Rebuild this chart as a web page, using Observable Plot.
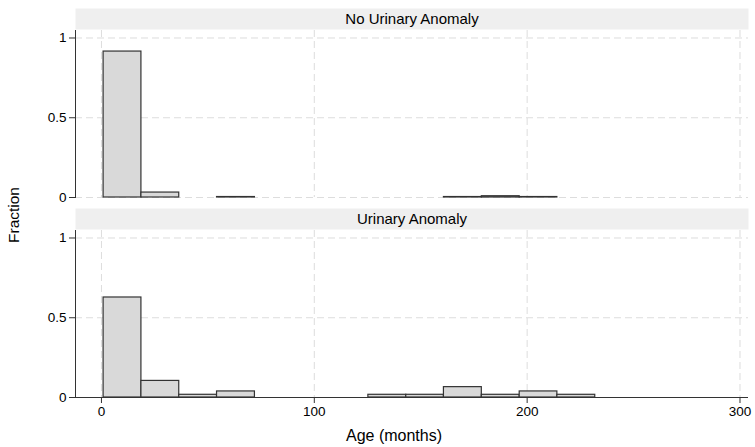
<!DOCTYPE html>
<html><head><meta charset="utf-8">
<script src="https://cdn.jsdelivr.net/npm/d3@7"></script>
<script src="https://cdn.jsdelivr.net/npm/@observablehq/plot@0.6"></script>
<style>
body{margin:0;background:#fff;}
#wrap{position:relative;width:755px;height:447px;font-family:"Liberation Sans",Arial,sans-serif;color:#000;}
#wrap svg{position:absolute;left:0;top:0;}
.lab{position:absolute;white-space:nowrap;line-height:1;}
#ylab{left:14px;top:215px;font-size:15.5px;transform:translate(-50%,-50%) rotate(-90deg);}
#xlab{left:394px;top:436px;font-size:16px;transform:translate(-50%,-50%);}
</style></head><body>
<div id="wrap"><div class="lab" id="ylab">Fraction</div><div class="lab" id="xlab">Age (months)</div></div>
<script>
const panels = ["No Urinary Anomaly", "Urinary Anomaly"];
const binEdges = [1, 18.77, 36.54, 54.3, 72.1, 89.8, 107.6, 125.4, 143.2, 160.9, 178.7, 196.5, 214.2, 232];
const fractionNoAnomaly = [0.915, 0.031, 0, 0.003, 0, 0, 0, 0, 0, 0.003, 0.008, 0.003, 0];
const fractionAnomaly = [0.627, 0.104, 0.017, 0.038, 0, 0, 0, 0.017, 0.017, 0.065, 0.017, 0.038, 0.017];
const xTicks = [0, 100, 200, 300];
const yTicks = [0, 0.5, 1];

const bars = panels.flatMap((p, i) => (i ? fractionAnomaly : fractionNoAnomaly)
  .map((v, j) => ({panel: p, x1: binEdges[j], x2: binEdges[j + 1], value: v})))
  .filter(d => d.value > 0);

const gridStyle = {stroke: "#dddddd", strokeOpacity: 1, strokeWidth: 1, strokeDasharray: "7,4"};

const chart = Plot.plot({
  width: 755,
  height: 447,
  marginLeft: 75,
  marginRight: 7,
  marginTop: 30,
  marginBottom: 50,
  style: {fontFamily: "Liberation Sans, Arial, sans-serif", fontSize: "13.5px", background: "#fff"},
  x: {domain: [-12.2, 304]},
  y: {domain: [0, 1.047]},
  fy: {domain: panels, paddingInner: 0.165, paddingOuter: 0, axis: null, label: null},
  marks: [
    Plot.frame({fill: "#efefef", stroke: null, insetTop: -22, insetBottom: 168}),
    Plot.text(panels, {fy: d => d, text: d => d, frameAnchor: "top", lineAnchor: "middle", dy: -11.5, fontSize: 15, fill: "#000"}),
    Plot.gridY({ticks: yTicks, ...gridStyle}),
    Plot.gridX({ticks: xTicks, ...gridStyle}),
    Plot.rectY(bars, {x1: "x1", x2: "x2", y: "value", fy: "panel", fill: "#d9d9d9", stroke: "#333", strokeWidth: 1.2}),
    Plot.frame({anchor: "left", stroke: "#333", strokeWidth: 1}),
    Plot.ruleY([{panel: panels[1], y: 0}], {fy: "panel", y: "y", stroke: "#333", strokeWidth: 1}),
    Plot.axisY({ticks: yTicks, tickSize: 6, tickPadding: 3, tickFormat: d => String(d), label: null, stroke: "#333", fill: "#000"}),
    Plot.axisX({ticks: xTicks, tickSize: 6, tickPadding: 3, label: null, stroke: "#333", fill: "#000"})
  ]
});
document.getElementById("wrap").prepend(chart);
</script>
</body></html>
